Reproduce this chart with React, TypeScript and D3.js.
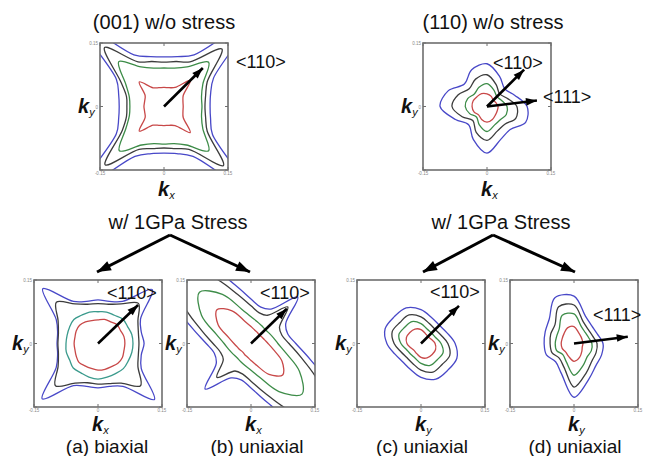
import React from 'react'
import * as d3 from 'd3'

// polar sampling of each iso-energy contour (degrees, counter-clockwise from +kx)
const ANGLES16 = [0, 22.5, 45, 67.5, 90, 112.5, 135, 157.5, 180, 202.5, 225, 247.5, 270, 292.5, 315, 337.5]
const ANGLES24 = [0, 15, 30, 45, 60, 75, 90, 105, 120, 135, 150, 165, 180, 195, 210, 225, 240, 255, 270, 285, 300, 315, 330, 345]
const K_TICKS = [-0.15, 0, 0.15]
const K_TICK_LABELS = ['-0.15', '0', '0.15']

// (001) w/o stress  (24 angles)
const s001Red = [0.045, 0.046, 0.052, 0.087, 0.052, 0.046, 0.045, 0.046, 0.051, 0.082, 0.051, 0.047, 0.047, 0.047, 0.051, 0.082, 0.051, 0.046, 0.045, 0.046, 0.052, 0.087, 0.052, 0.046]
const s001Green = [0.089, 0.091, 0.105, 0.148, 0.108, 0.094, 0.091, 0.094, 0.108, 0.150, 0.103, 0.084, 0.080, 0.084, 0.103, 0.148, 0.105, 0.091, 0.089, 0.091, 0.105, 0.148, 0.105, 0.091]
const s001Black = [0.096, 0.101, 0.117, 0.192, 0.122, 0.110, 0.105, 0.110, 0.122, 0.197, 0.117, 0.091, 0.087, 0.091, 0.113, 0.195, 0.117, 0.103, 0.098, 0.103, 0.117, 0.197, 0.117, 0.101]
const s001Blue = [0.108, 0.113, 0.134, 0.281, 0.141, 0.122, 0.117, 0.122, 0.141, 0.281, 0.129, 0.110, 0.105, 0.110, 0.129, 0.281, 0.136, 0.115, 0.110, 0.115, 0.136, 0.281, 0.131, 0.113]

// (110) w/o stress  (16 angles)
const s110Red = [0.026, 0.023, 0.021, 0.026, 0.030, 0.033, 0.033, 0.035, 0.035, 0.033, 0.028, 0.033, 0.037, 0.033, 0.028, 0.026]
const s110Green = [0.047, 0.037, 0.033, 0.042, 0.054, 0.049, 0.042, 0.049, 0.051, 0.044, 0.035, 0.047, 0.059, 0.047, 0.044, 0.049]
const s110Black = [0.070, 0.051, 0.042, 0.056, 0.075, 0.070, 0.059, 0.073, 0.082, 0.063, 0.047, 0.066, 0.080, 0.063, 0.059, 0.073]
const s110Blue = [0.094, 0.070, 0.059, 0.077, 0.101, 0.094, 0.075, 0.098, 0.110, 0.080, 0.061, 0.084, 0.110, 0.084, 0.077, 0.098]

// (a) (001) biaxial 1GPa  (24 angles)
const aRed = [0.063, 0.063, 0.061, 0.063, 0.059, 0.059, 0.056, 0.056, 0.059, 0.061, 0.059, 0.056, 0.056, 0.056, 0.059, 0.063, 0.061, 0.061, 0.063, 0.063, 0.063, 0.066, 0.066, 0.063]
const aTeal = [0.082, 0.082, 0.080, 0.082, 0.077, 0.077, 0.075, 0.077, 0.077, 0.080, 0.077, 0.075, 0.075, 0.077, 0.077, 0.082, 0.080, 0.082, 0.084, 0.082, 0.082, 0.084, 0.082, 0.082]
const aBlack = [0.096, 0.098, 0.108, 0.134, 0.108, 0.096, 0.094, 0.096, 0.108, 0.138, 0.108, 0.096, 0.094, 0.096, 0.108, 0.141, 0.108, 0.096, 0.096, 0.098, 0.108, 0.141, 0.108, 0.098]
const aBlue = [0.108, 0.105, 0.115, 0.180, 0.115, 0.103, 0.103, 0.103, 0.115, 0.183, 0.113, 0.098, 0.096, 0.098, 0.113, 0.185, 0.115, 0.105, 0.105, 0.105, 0.117, 0.187, 0.117, 0.105]

// (b) (001) uniaxial 1GPa  (24 angles)
const bRed = [0.040, 0.033, 0.030, 0.028, 0.030, 0.033, 0.040, 0.054, 0.089, 0.113, 0.089, 0.054, 0.040, 0.033, 0.030, 0.028, 0.030, 0.033, 0.040, 0.054, 0.084, 0.105, 0.084, 0.054]
const bGreen = [0.063, 0.054, 0.049, 0.047, 0.049, 0.054, 0.063, 0.084, 0.134, 0.171, 0.134, 0.084, 0.063, 0.054, 0.049, 0.047, 0.049, 0.054, 0.063, 0.084, 0.131, 0.169, 0.131, 0.084]
const bBlack = [0.089, 0.075, 0.077, 0.122, 0.077, 0.075, 0.089, 0.120, 0.183, 0.258, 0.183, 0.120, 0.089, 0.075, 0.075, 0.113, 0.075, 0.075, 0.089, 0.120, 0.183, 0.258, 0.183, 0.120]
const bBlue = [0.105, 0.089, 0.094, 0.155, 0.094, 0.089, 0.105, 0.143, 0.225, 0.328, 0.225, 0.143, 0.105, 0.089, 0.094, 0.152, 0.094, 0.089, 0.105, 0.143, 0.225, 0.328, 0.225, 0.143]

// (c) (110) uniaxial 1GPa  (16 angles)
const cRed = [0.033, 0.026, 0.023, 0.026, 0.033, 0.037, 0.037, 0.037, 0.033, 0.026, 0.023, 0.026, 0.033, 0.037, 0.037, 0.037]
const cGreen = [0.047, 0.037, 0.035, 0.037, 0.047, 0.056, 0.054, 0.056, 0.047, 0.037, 0.035, 0.037, 0.047, 0.056, 0.054, 0.056]
const cBlack = [0.063, 0.051, 0.047, 0.051, 0.063, 0.073, 0.070, 0.073, 0.063, 0.051, 0.047, 0.051, 0.063, 0.073, 0.070, 0.073]
const cBlue = [0.080, 0.066, 0.061, 0.066, 0.080, 0.091, 0.089, 0.091, 0.080, 0.066, 0.061, 0.066, 0.080, 0.091, 0.089, 0.091]

// (d) (110) uniaxial 1GPa  (16 angles)
const dRed = [0.021, 0.021, 0.023, 0.028, 0.040, 0.040, 0.033, 0.030, 0.030, 0.030, 0.028, 0.033, 0.042, 0.035, 0.026, 0.021]
const dGreen = [0.042, 0.037, 0.037, 0.044, 0.070, 0.072, 0.049, 0.044, 0.044, 0.044, 0.037, 0.047, 0.075, 0.056, 0.044, 0.044]
const dBlack = [0.054, 0.047, 0.047, 0.056, 0.091, 0.094, 0.063, 0.059, 0.056, 0.056, 0.049, 0.061, 0.103, 0.075, 0.059, 0.056]
const dBlue = [0.068, 0.059, 0.059, 0.070, 0.112, 0.117, 0.082, 0.073, 0.070, 0.070, 0.061, 0.077, 0.127, 0.091, 0.073, 0.070]

// direction vectors drawn from the origin, [kx, ky]
const dir001_110: [number, number] = [0.091, 0.091]
const dir110_110: [number, number] = [0.087, 0.087]
const dir110_111: [number, number] = [0.117, 0.014]
const dirA_110: [number, number] = [0.094, 0.091]
const dirB_110: [number, number] = [0.084, 0.082]
const dirC_110: [number, number] = [0.089, 0.089]
const dirD_111: [number, number] = [0.126, 0.016]

const BLUE = '#4848c8'
const BLACK = '#3c3c3c'
const GREEN = '#3d8c48'
const TEAL = '#3a9a8c'
const RED = '#c84848'
const FRAME = '#6e6e6e'
const FONT = 'Liberation Sans, Arial, sans-serif'

type Contour = { r: number[]; color: string }
type Dir = { v: [number, number]; label: string; lx: number; ly: number }

interface PanelProps {
  id: string
  x: number
  y: number
  w: number
  h: number
  angles: number[]
  contours: Contour[]
  dirs: Dir[]
  xSub: string
  xLabelGap: number
}

function ArrowHead({ x1, y1, x2, y2, len = 11, half = 3.8 }: { x1: number; y1: number; x2: number; y2: number; len?: number; half?: number }) {
  const a = Math.atan2(y2 - y1, x2 - x1)
  const bx = x2 - len * Math.cos(a)
  const by = y2 - len * Math.sin(a)
  const px = -Math.sin(a) * half
  const py = Math.cos(a) * half
  return <polygon points={`${x2},${y2} ${bx + px},${by + py} ${bx - px},${by - py}`} fill="#000" />
}

function KLabel({ x, y, sub }: { x: number; y: number; sub: string }) {
  return (
    <text x={x} y={y} fontFamily={FONT} fontSize={20} fontWeight="bold" fontStyle="italic" fill="#111">
      k<tspan fontSize={11} dy={3} fontWeight="normal">{sub}</tspan>
    </text>
  )
}

function Panel({ id, x, y, w, h, angles, contours, dirs, xSub, xLabelGap }: PanelProps) {
  const sx = d3.scaleLinear().domain([-0.15, 0.15]).range([0, w])
  const sy = d3.scaleLinear().domain([-0.15, 0.15]).range([h, 0])
  const line = d3.line<number[]>()
    .x(p => sx(p[0]))
    .y(p => sy(p[1]))
    .curve(d3.curveCatmullRomClosed.alpha(0.5))

  const path = (r: number[]) =>
    line(r.map((v, i) => {
      const t = (angles[i] * Math.PI) / 180
      return [v * Math.cos(t), v * Math.sin(t)]
    })) ?? ''

  return (
    <g transform={`translate(${x},${y})`}>
      <defs>
        <clipPath id={id}>
          <rect x={0} y={0} width={w} height={h} />
        </clipPath>
      </defs>
      <g clipPath={`url(#${id})`}>
        {contours.map((c, i) => (
          <path key={i} d={path(c.r)} fill="none" stroke={c.color} strokeWidth={1.3} />
        ))}
      </g>
      <rect x={0} y={0} width={w} height={h} fill="none" stroke={FRAME} strokeWidth={1.6} />
      {K_TICKS.map((t, i) => (
        <g key={i}>
          <line x1={sx(t)} x2={sx(t)} y1={h} y2={h - 3} stroke={FRAME} />
          <line x1={sx(t)} x2={sx(t)} y1={0} y2={3} stroke={FRAME} />
          <line x1={0} x2={3} y1={sy(t)} y2={sy(t)} stroke={FRAME} />
          <line x1={w} x2={w - 3} y1={sy(t)} y2={sy(t)} stroke={FRAME} />
          <text x={sx(t)} y={h + 5} fontSize={4.5} fontFamily={FONT} fill="#888" textAnchor="middle">{K_TICK_LABELS[i]}</text>
          {t !== -0.15 && (
            <text x={-2} y={sy(t) + 2} fontSize={4.5} fontFamily={FONT} fill="#888" textAnchor="end">{K_TICK_LABELS[i]}</text>
          )}
        </g>
      ))}
      {dirs.map((d, i) => {
        const x1 = sx(0), y1 = sy(0), x2 = sx(d.v[0]), y2 = sy(d.v[1])
        return (
          <g key={i}>
            <line x1={x1} y1={y1} x2={x2} y2={y2} stroke="#000" strokeWidth={2.6} />
            <ArrowHead x1={x1} y1={y1} x2={x2} y2={y2} />
          </g>
        )
      })}
      {dirs.map((d, i) => (
        <text key={'l' + i} x={d.lx - x} y={d.ly - y} fontFamily={FONT} fontSize={18} fill="#111">{d.label}</text>
      ))}
      <KLabel x={-22} y={h / 2 + 6} sub="y" />
      <KLabel x={w / 2 - 6} y={h + xLabelGap} sub={xSub} />
    </g>
  )
}

function StressArrows({ cx, top, left, right, yEnd }: { cx: number; top: number; left: number; right: number; yEnd: number }) {
  return (
    <g>
      <text x={cx + 8} y={top - 6} fontFamily={FONT} fontSize={20} textAnchor="middle" fill="#111">w/ 1GPa Stress</text>
      <line x1={cx} y1={top} x2={left} y2={yEnd} stroke="#000" strokeWidth={3} />
      <line x1={cx} y1={top} x2={right} y2={yEnd} stroke="#000" strokeWidth={3} />
      <ArrowHead x1={cx} y1={top} x2={left} y2={yEnd} len={14} half={5} />
      <ArrowHead x1={cx} y1={top} x2={right} y2={yEnd} len={14} half={5} />
    </g>
  )
}

export default function App() {
  const W = 128
  const H = 127
  return (
    <svg width={647} height={456} style={{ position: 'absolute', left: 0, top: 0, background: '#fff' }}>
      <text x={164} y={29} fontFamily={FONT} fontSize={20} textAnchor="middle" fill="#111">(001) w/o stress</text>
      <text x={493} y={29} fontFamily={FONT} fontSize={20} textAnchor="middle" fill="#111">(110) w/o stress</text>

      <Panel id="p001" x={100} y={43} w={W} h={H} angles={ANGLES24} xSub="x" xLabelGap={26}
        contours={[{ r: s001Blue, color: BLUE }, { r: s001Black, color: BLACK }, { r: s001Green, color: GREEN }, { r: s001Red, color: RED }]}
        dirs={[{ v: dir001_110, label: '<110>', lx: 236, ly: 68 }]} />
      <Panel id="p110" x={423} y={43} w={W} h={H} angles={ANGLES16} xSub="x" xLabelGap={26}
        contours={[{ r: s110Blue, color: BLUE }, { r: s110Black, color: BLACK }, { r: s110Green, color: GREEN }, { r: s110Red, color: RED }]}
        dirs={[{ v: dir110_110, label: '<110>', lx: 493, ly: 69 }, { v: dir110_111, label: '<111>', lx: 543, ly: 103 }]} />

      <StressArrows cx={170} top={235} left={97} right={250} yEnd={272} />
      <StressArrows cx={493} top={235} left={423} right={575} yEnd={272} />

      <Panel id="pa" x={34} y={280} w={W} h={H} angles={ANGLES24} xSub="x" xLabelGap={24}
        contours={[{ r: aBlue, color: BLUE }, { r: aBlack, color: BLACK }, { r: aTeal, color: TEAL }, { r: aRed, color: RED }]}
        dirs={[{ v: dirA_110, label: '<110>', lx: 107, ly: 299 }]} />
      <Panel id="pb" x={187} y={280} w={W} h={H} angles={ANGLES24} xSub="x" xLabelGap={24}
        contours={[{ r: bBlue, color: BLUE }, { r: bBlack, color: BLACK }, { r: bGreen, color: GREEN }, { r: bRed, color: RED }]}
        dirs={[{ v: dirB_110, label: '<110>', lx: 260, ly: 299 }]} />
      <Panel id="pc" x={357} y={280} w={W} h={H} angles={ANGLES16} xSub="y" xLabelGap={24}
        contours={[{ r: cBlue, color: BLUE }, { r: cBlack, color: BLACK }, { r: cGreen, color: GREEN }, { r: cRed, color: RED }]}
        dirs={[{ v: dirC_110, label: '<110>', lx: 430, ly: 298 }]} />
      <Panel id="pd" x={510} y={280} w={W} h={H} angles={ANGLES16} xSub="y" xLabelGap={24}
        contours={[{ r: dBlue, color: BLUE }, { r: dBlack, color: BLACK }, { r: dGreen, color: GREEN }, { r: dRed, color: RED }]}
        dirs={[{ v: dirD_111, label: '<111>', lx: 593, ly: 321 }]} />

      <text x={107} y={453} fontFamily={FONT} fontSize={19} textAnchor="middle" fill="#111">(a) biaxial</text>
      <text x={257} y={453} fontFamily={FONT} fontSize={19} textAnchor="middle" fill="#111">(b) uniaxial</text>
      <text x={422} y={453} fontFamily={FONT} fontSize={19} textAnchor="middle" fill="#111">(c) uniaxial</text>
      <text x={575} y={453} fontFamily={FONT} fontSize={19} textAnchor="middle" fill="#111">(d) uniaxial</text>
    </svg>
  )
}
